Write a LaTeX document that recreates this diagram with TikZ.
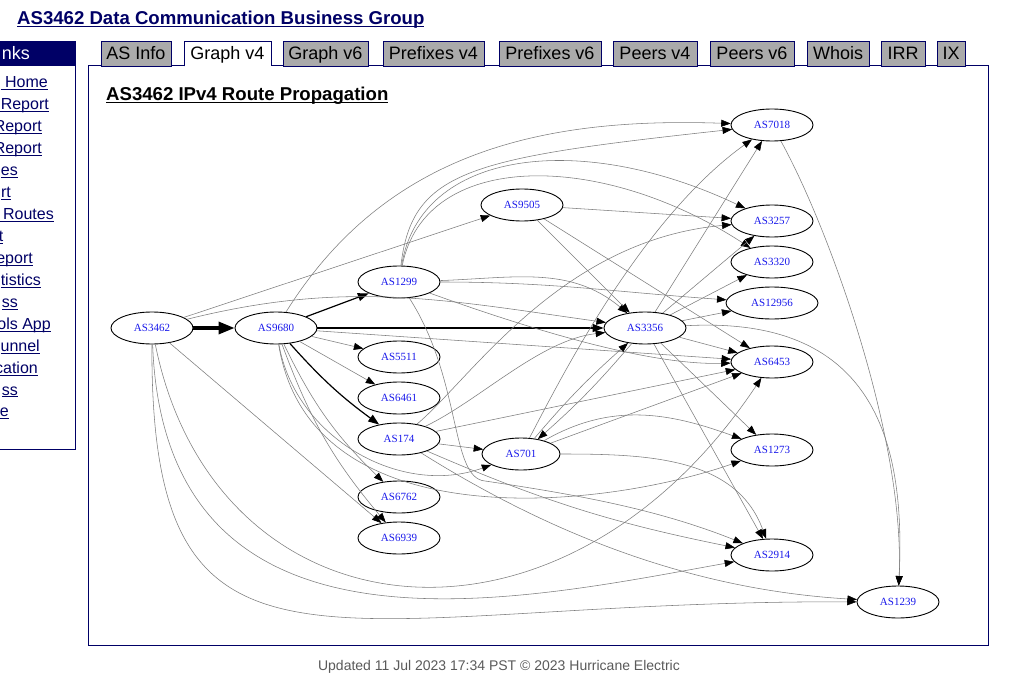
\documentclass[tikz,border=0pt]{standalone}
\usepackage{fontspec}
\setmainfont{Liberation Sans}
\newfontfamily\asfont{Liberation Serif}
\usetikzlibrary{shapes.geometric,arrows.meta}
\definecolor{navy}{RGB}{0,0,102}
\definecolor{tabgray}{RGB}{170,170,170}
\definecolor{asblue}{RGB}{25,25,235}
\definecolor{edgegray}{RGB}{125,125,125}
\definecolor{footgray}{RGB}{90,90,90}
\newcommand{\ulin}[1]{\setbox0=\hbox{#1}\rlap{\rule[-2.4pt]{\wd0}{1pt}}\box0}
\begin{document}
\begin{tikzpicture}[x=1pt,y=1pt,
  asn/.style={draw=black, line width=0.9pt, ellipse, minimum width=82pt, minimum height=32pt, inner sep=0pt, font=\asfont\fontsize{11}{13}\selectfont, text=asblue},
  gedge/.style={draw=edgegray, line width=0.55pt, -{Triangle[length=9.5pt,width=7pt,color=black]}},
  dedge/.style={draw=black, line width=1.2pt, -{Triangle[length=11pt,width=8pt]}},
  bedge/.style={draw=black, line width=3.2pt, -{Triangle[length=16pt,width=12pt]}},
  tabbox/.style={draw=navy, line width=0.9pt, fill=tabgray},
  tabtxt/.style={anchor=base, inner sep=0pt, font=\fontsize{18}{20}\selectfont, text=black},
  lnk/.style={anchor=base east, inner sep=0pt, font=\fontsize{16}{18}\selectfont, text=navy}
]
\useasboundingbox (0,0) rectangle (1024,-679);
\fill[white] (0,0) rectangle (1024,-679);

% page title
\node[anchor=base west, inner sep=0pt, text=navy, font=\bfseries\fontsize{18.6}{21}\selectfont] (title) at (17,-24.5) {\ulin{AS3462 Data Communication Business Group}};

% sidebar
\draw[navy, line width=1pt] (-3,-42) rectangle (75.5,-449);
\fill[navy] (-3,-42) rectangle (75.5,-66);
\node[anchor=base east, inner sep=0pt, text=white, font=\fontsize{18}{20}\selectfont] (sbh) at (30,-60) {nks};
\node[lnk] (s1) at (48,-88) {\ulin{\ Home}};
\node[lnk] (s2) at (49,-109.9) {\ulin{\ Report}};
\node[lnk] (s3) at (42,-131.9) {\ulin{Report}};
\node[lnk] (s4) at (42,-153.8) {\ulin{Report}};
\node[lnk] (s5) at (18,-175.7) {\ulin{es}};
\node[lnk] (s6) at (11,-197.7) {\ulin{rt}};
\node[lnk] (s7) at (54,-219.6) {\ulin{\ Routes}};
\node[lnk] (s8) at (3.5,-241.5) {\ulin{t}};
\node[lnk] (s9) at (33,-263.4) {\ulin{eport}};
\node[lnk] (s10) at (41,-285.4) {\ulin{tistics}};
\node[lnk] (s11) at (18,-307.3) {\ulin{ss}};
\node[lnk] (s12) at (51,-329.2) {\ulin{ols App}};
\node[lnk] (s13) at (40,-351.2) {\ulin{unnel}};
\node[lnk] (s14) at (38,-373.1) {\ulin{cation}};
\node[lnk] (s15) at (18,-395) {\ulin{ss}};
\node[lnk] (s16) at (9,-416.9) {\ulin{e}};

% panel
\draw[navy, line width=1pt, fill=white] (88,-66) rectangle (988,-645);

% tabs
\draw[tabbox] (101,-41) rectangle (171,-66);
\node[tabtxt] (t1) at (136,-59.7) {AS Info};
\fill[white] (184,-41) rectangle (271,-67);
\draw[navy, line width=0.9pt] (184,-66.5) -- (184,-41) -- (271,-41) -- (271,-66.5);
\node[tabtxt] (t2) at (227.5,-59.7) {Graph v4};
\draw[tabbox] (283,-41) rectangle (368,-66);
\node[tabtxt] (t3) at (325.5,-59.7) {Graph v6};
\draw[tabbox] (383,-41) rectangle (484,-66);
\node[tabtxt] (t4) at (433.5,-59.7) {Prefixes v4};
\draw[tabbox] (499,-41) rectangle (601,-66);
\node[tabtxt] (t5) at (550,-59.7) {Prefixes v6};
\draw[tabbox] (613,-41) rectangle (697,-66);
\node[tabtxt] (t6) at (655,-59.7) {Peers v4};
\draw[tabbox] (710,-41) rectangle (794,-66);
\node[tabtxt] (t7) at (752,-59.7) {Peers v6};
\draw[tabbox] (807,-41) rectangle (869,-66);
\node[tabtxt] (t8) at (838,-59.7) {Whois};
\draw[tabbox] (881,-41) rectangle (925,-66);
\node[tabtxt] (t9) at (903,-59.7) {IRR};
\draw[tabbox] (937,-41) rectangle (965,-66);
\node[tabtxt] (t10) at (951,-59.7) {IX};

% panel title
\node[anchor=base west, inner sep=0pt, text=black, font=\bfseries\fontsize{18.6}{21}\selectfont] (ptitle) at (106,-100.5) {\ulin{AS3462 IPv4 Route Propagation}};

% footer
\node[anchor=base, inner sep=0pt, text=footgray, font=\fontsize{14}{16}\selectfont] (foot) at (499,-670) {Updated 11 Jul 2023 17:34 PST © 2023 Hurricane Electric};

% graph nodes
\node[asn] (n3462) at (152,-328) {AS3462};
\node[asn] (n9680) at (276,-328) {AS9680};
\node[asn] (n1299) at (399,-282) {AS1299};
\node[asn] (n5511) at (399,-357) {AS5511};
\node[asn] (n6461) at (399,-398) {AS6461};
\node[asn] (n174) at (399,-439) {AS174};
\node[asn] (n6762) at (399,-497) {AS6762};
\node[asn] (n6939) at (399,-538) {AS6939};
\node[asn] (n9505) at (522,-205) {AS9505};
\node[asn, minimum width=78pt] (n701) at (521,-454) {AS701};
\node[asn] (n3356) at (645,-328) {AS3356};
\node[asn] (n7018) at (772,-125) {AS7018};
\node[asn] (n3257) at (772,-221) {AS3257};
\node[asn] (n3320) at (772,-262) {AS3320};
\node[asn, minimum width=92pt] (n12956) at (772,-303) {AS12956};
\node[asn] (n6453) at (772,-362) {AS6453};
\node[asn] (n1273) at (772,-450) {AS1273};
\node[asn] (n2914) at (772,-555) {AS2914};
\node[asn] (n1239) at (898,-602) {AS1239};

% dark edges
\draw[bedge] (n3462) -- (n9680);
\draw[dedge] (n9680) -- (n1299);
\draw[dedge] (n9680) -- (n3356);
\draw[dedge] (n9680) to[bend right=6] (n174);

% AS3462
\draw[gedge] (n3462) -- (n9505);
\draw[gedge] (n3462) to[out=14,in=172] (n3356);
\draw[gedge] (n3462) -- (n6939);
\draw[gedge] (n3462) .. controls (215,-640) and (560,-680) .. (n6453);
\draw[gedge] (n3462) .. controls (165,-680) and (520,-600) .. (n2914);
\draw[gedge] (n3462) .. controls (150,-720) and (330,-600) .. (n1239);

% AS9680
\draw[gedge] (n9680) to[out=58,in=178] (n7018);
\draw[gedge] (n9680) -- (n5511);
\draw[gedge] (n9680) -- (n6461);
\draw[gedge] (n9680) to[bend right=10] (n6762);
\draw[gedge] (n9680) to[bend right=10] (n6939);
\draw[gedge] (n9680) to[out=-80,in=200] (n701);
\draw[gedge] (n9680) -- (n6453);
\draw[gedge] (n9680) .. controls (310,-540) and (600,-510) .. (n1273);

% AS1299
\draw[gedge] (n1299) .. controls (412,-170) and (470,-158) .. (n7018);
\draw[gedge] (n1299) .. controls (420,-150) and (580,-130) .. (n3257);
\draw[gedge] (n1299) .. controls (425,-150) and (600,-150) .. (n3320);
\draw[gedge] (n1299) to[out=2,in=140] (n3356);
\draw[gedge] (n1299) to[out=0,in=176] (n12956);
\draw[gedge] (n1299) .. controls (560,-340) and (660,-365) .. (n6453);
\draw[gedge] (n1299) .. controls (462,-380) and (450,-478) .. (485,-481) .. controls (580,-495) and (660,-510) .. (n2914);

% AS174
\draw[gedge] (n174) .. controls (480,-400) and (540,-340) .. (n3356);
\draw[gedge] (n174) .. controls (470,-380) and (560,-240) .. (n3257);
\draw[gedge] (n174) -- (n701);
\draw[gedge] (n174) -- (n6453);
\draw[gedge] (n174) to[bend right=6] (n2914);
\draw[gedge] (n174) .. controls (560,-540) and (700,-590) .. (n1239);

% AS9505
\draw[gedge] (n9505) -- (n3257);
\draw[gedge] (n9505) -- (n3356);
\draw[gedge] (n9505) -- (n6453);

% AS701
\draw[gedge] (n701) to[bend left=4] (n3356);
\draw[gedge] (n701) .. controls (560,-380) and (640,-220) .. (n7018);
\draw[gedge] (n701) -- (n6453);
\draw[gedge] (n701) to[out=30,in=160] (n1273);
\draw[gedge] (n701) to[out=0,in=110] (n2914);

% AS3356
\draw[gedge] (n3356) to[bend left=4] (n701);
\draw[gedge] (n3356) -- (n7018);
\draw[gedge] (n3356) -- (n3257);
\draw[gedge] (n3356) -- (n3320);
\draw[gedge] (n3356) -- (n12956);
\draw[gedge] (n3356) -- (n6453);
\draw[gedge] (n3356) -- (n1273);
\draw[gedge] (n3356) -- (n2914);
\draw[gedge] (n3356) .. controls (880,-315) and (905,-450) .. (n1239);

% AS7018
\draw[gedge] (n7018) .. controls (830,-230) and (905,-440) .. (n1239);
\end{tikzpicture}
\end{document}
